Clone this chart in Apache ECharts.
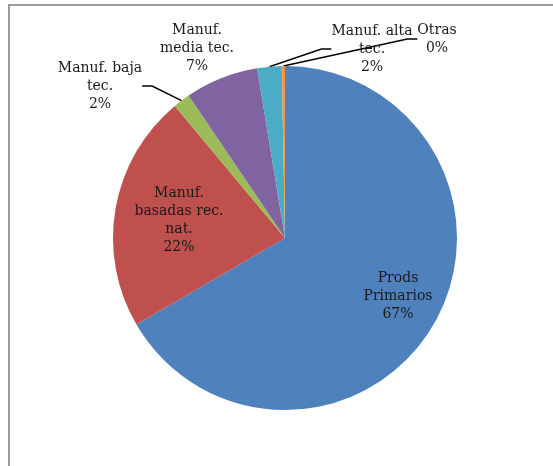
<!DOCTYPE html>
<html>
<head>
<meta charset="utf-8">
<script src="https://cdn.jsdelivr.net/npm/echarts@6/dist/echarts.min.js"></script>
<style>html,body{margin:0;padding:0;background:#fff;}#c{width:553px;height:466px;}</style>
</head>
<body>
<div id="c"></div>
<script>
var categories = ['Prods\nPrimarios', 'Manuf.\nbasadas rec.\nnat.', 'Manuf. baja\ntec.', 'Manuf.\nmedia tec.', 'Manuf. alta\ntec.', 'Otras'];
var values = [66.8, 22.4, 1.6, 6.9, 2.3, 0.3];
var colors = ['#4F81BD', '#C0504D', '#9BBB59', '#8064A2', '#4BACC6', '#F79646'];
var labelPos = [[398, 296], [179, 220], [100, 86], [197, 48], [372, 49], [437, 39]];
var insideIdx = [0, 1];

var chart = echarts.init(document.getElementById('c'), null, {renderer: 'canvas'});
var data = categories.map(function (c, i) {
  var item = {name: c, value: values[i], itemStyle: {color: colors[i]}};
  if (insideIdx.indexOf(i) >= 0 || i === 3) item.labelLine = {show: false};
  return item;
});
chart.setOption({
  animation: false,
  graphic: [
    {type: 'line', shape: {x1: 8, y1: 5, x2: 553, y2: 5}, style: {stroke: '#9a9a9a', lineWidth: 2}},
    {type: 'line', shape: {x1: 9, y1: 4, x2: 9, y2: 466}, style: {stroke: '#9a9a9a', lineWidth: 2}}
  ],
  series: [{
    type: 'pie',
    center: [285, 238],
    radius: 172,
    startAngle: 90,
    clockwise: true,
    avoidLabelOverlap: false,
    itemStyle: {borderWidth: 0},
    label: {
      show: true,
      position: 'outside',
      fontFamily: 'DejaVu Serif',
      fontSize: 14,
      lineHeight: 18,
      color: '#1a1a1a',
      align: 'center',
      formatter: function (p) { return p.name + '\n' + Math.round(p.percent) + '%'; }
    },
    labelLine: {show: true, length: 10, length2: 10, lineStyle: {color: '#000', width: 1.5}},
    labelLayout: function (p) {
      var pos = labelPos[p.dataIndex];
      return {x: pos[0], y: pos[1], align: 'center', verticalAlign: 'middle'};
    },
    data: data
  }]
});
</script>
</body>
</html>
